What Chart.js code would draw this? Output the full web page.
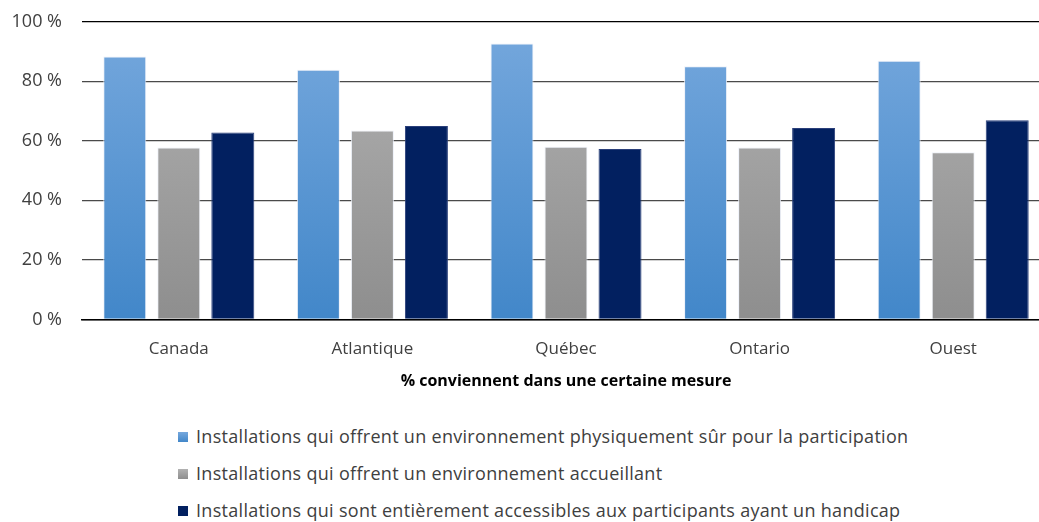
<!DOCTYPE html>
<html>
<head>
<meta charset="utf-8">
<script src="https://cdn.jsdelivr.net/npm/chart.js@4/dist/chart.umd.min.js"></script>
<style>
  html, body { margin: 0; padding: 0; background: #fff; overflow: hidden; }
  #wrap { position: relative; width: 1039px; height: 522px; overflow: hidden; }
  #chart-box { position: absolute; left: 0; top: -9px; width: 1050px; height: 404px; }
  #legend { position: absolute; left: 178px; top: 424px; font-family: "Open Sans", sans-serif; font-size: 18px; letter-spacing: 0.3px; color: #404040; }
  #legend div { height: 37px; display: flex; align-items: flex-start; line-height: 24px; }
  #legend span.sw { display: inline-block; width: 10px; height: 10px; margin: 8px 8px 0 0; }
</style>
</head>
<body>
<div id="wrap">
  <div id="chart-box"><canvas id="c"></canvas></div>
  <div id="legend"></div>
</div>
<script>
// --- データ ---
const regions = ['Canada', 'Atlantique', 'Québec', 'Ontario', 'Ouest'];
const seriesNames = [
    'Installations qui offrent un environnement physiquement sûr pour la participation',
    'Installations qui offrent un environnement accueillant',
    'Installations qui sont entièrement accessibles aux participants ayant un handicap'
];
const safeValues = [88.3, 83.9, 92.7, 85.1, 86.9];
const welcomingValues = [57.8, 63.5, 58.0, 57.8, 56.2];
const accessibleValues = [62.8, 65.0, 57.3, 64.3, 66.9];
const yTicks = [0, 20, 40, 60, 80, 100];
const xTitle = '% conviennent dans une certaine mesure';

// --- 色 ---
const FONT = '"Open Sans", sans-serif';
const TEXT_COLOR = '#404040';
const gradStops = [
    ['#76a8dd', '#4287c9'],
    ['#b2b2b2', '#8e8e8e'],
    ['#022060', '#022060']
];
const legendCss = [
    'linear-gradient(#76a8dd, #4287c9)',
    'linear-gradient(#b2b2b2, #8e8e8e)',
    '#022060'
];

function gradientFor(i) {
    return (ctx) => {
        const { chart } = ctx;
        const area = chart.chartArea;
        if (!area) return gradStops[i][1];
        const g = chart.ctx.createLinearGradient(0, area.top, 0, area.bottom);
        g.addColorStop(0, gradStops[i][0]);
        g.addColorStop(1, gradStops[i][1]);
        return g;
    };
}

const allValues = [safeValues, welcomingValues, accessibleValues];
const datasets = allValues.map((vals, i) => ({
    label: seriesNames[i],
    data: vals,
    backgroundColor: gradientFor(i),
    borderColor: i === 2 ? '#2a3f7a' : 'rgba(235,240,248,0.9)',
    borderWidth: 1,
    borderSkipped: 'bottom',
    categoryPercentage: 0.837,
    barPercentage: 0.796
}));

new Chart(document.getElementById('c'), {
    type: 'bar',
    data: { labels: regions, datasets },
    options: {
        responsive: true,
        maintainAspectRatio: false,
        animation: false,
        layout: { padding: { top: 0, right: 0, left: 0, bottom: 0 } },
        plugins: {
            legend: { display: false },
            tooltip: { enabled: false }
        },
        scales: {
            x: {
                grid: { display: false },
                border: { color: '#000', width: 1.5 },
                ticks: { color: TEXT_COLOR, font: { family: FONT, size: 17 }, padding: 12 },
                title: { display: true, text: xTitle, color: '#000', font: { family: FONT, size: 16, weight: 'bold' }, padding: { top: 0 } }
            },
            y: {
                min: 0, max: 100,
                afterBuildTicks: (axis) => { axis.ticks = yTicks.map(v => ({ value: v })); },
                afterFit: (axis) => { axis.width = 82; },
                grid: {
                    color: (ctx) => (ctx.tick && ctx.tick.value === 100) ? '#000' : '#4a4a4a',
                    lineWidth: 1.3,
                    drawTicks: false
                },
                border: { display: false },
                ticks: {
                    color: TEXT_COLOR,
                    font: { family: FONT, size: 18 },
                    padding: 20,
                    callback: (v) => v + ' %'
                }
            }
        }
    }
});

// --- 凡例 ---
const legendEl = document.getElementById('legend');
seriesNames.forEach((name, i) => {
    const row = document.createElement('div');
    row.innerHTML = `<span class="sw" style="background:${legendCss[i]}"></span><span>${name}</span>`;
    legendEl.appendChild(row);
});
</script>
</body>
</html>
